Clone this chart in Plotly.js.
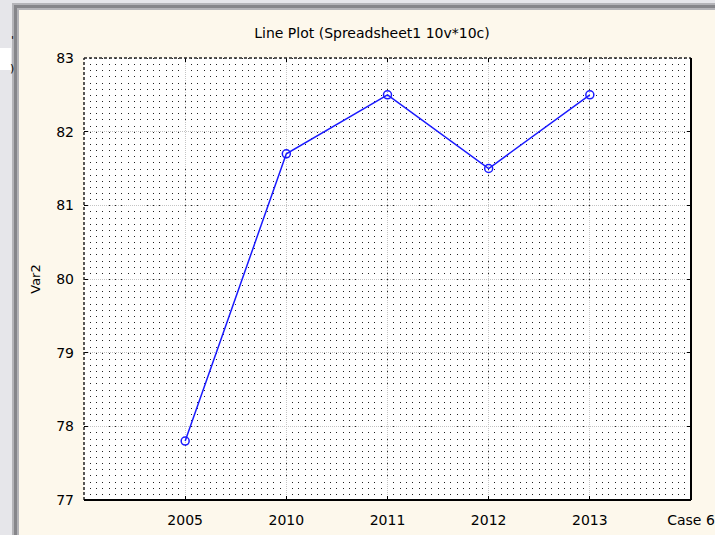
<!DOCTYPE html>
<html>
<head>
<meta charset="utf-8">
<script src="https://cdn.plot.ly/plotly-3.0.1.min.js"></script>
<style>
html,body{margin:0;padding:0;background:#fdf8ec;overflow:hidden;}
#frame{position:absolute;left:0;top:0;width:715px;height:535px;background:#fdf8ec;}
.s{position:absolute;}
#chart{position:absolute;left:0;top:0;width:715px;height:535px;z-index:2;}
</style>
</head>
<body>
<div id="frame">
  <div class="s" style="left:0;top:0;width:19px;height:535px;background:#e6e6ea;"></div>
  <div class="s" style="left:0;top:0;width:715px;height:10px;background:#e6e6ea;"></div>
  <div class="s" style="left:12px;top:3px;width:7px;height:532px;background:#b4b4b8;"></div>
  <div class="s" style="left:12px;top:3px;width:703px;height:7px;background:#b4b4b8;"></div>
  <div class="s" style="left:14px;top:5px;width:3px;height:530px;background:#86868a;"></div>
  <div class="s" style="left:14px;top:5px;width:701px;height:3px;background:#86868a;"></div>
  <div class="s" style="left:0;top:48px;width:11px;height:22px;background:#ffffff;"></div>
</div>
<div id="chart"></div>
<script>
// Data
const caseIndex = [1, 2, 3, 4, 5];
const years = ["2005", "2010", "2011", "2012", "2013"];
const var2 = [77.8, 81.7, 82.5, 81.5, 82.5];
const xTickVals = [1, 2, 3, 4, 5, 6];
const xTickText = ["2005", "2010", "2011", "2012", "2013", "Case 6"];
const yTickVals = [77, 78, 79, 80, 81, 82, 83];

const W = 715, H = 535;
const M = {l: 84, r: 24, t: 58, b: 35};
const PW = W - M.l - M.r, PH = H - M.t - M.b;
function px(x){ return (x - M.l) / PW; }
function py(y){ return 1 - (y - M.t) / PH; }

const font = {family: "DejaVu Sans, Verdana, sans-serif", size: 14, color: "#000"};

const trace = {
  x: caseIndex,
  y: var2,
  text: years,
  type: "scatter",
  mode: "lines+markers",
  line: {color: "#1a1aff", width: 1.5},
  marker: {symbol: "circle-open", size: 8, color: "#1a1aff", line: {width: 1.5}},
  hoverinfo: "text+y",
  showlegend: false
};

const layout = {
  width: W, height: H,
  margin: M,
  paper_bgcolor: "rgba(0,0,0,0)",
  plot_bgcolor: "#ffffff",
  font: font,
  title: {text: "Line Plot (Spreadsheet1 10v*10c)", font: {family: font.family, size: 14, color: "#000"},
          x: 372 / W, xref: "container", xanchor: "center", y: 1 - 33/H, yref: "container", yanchor: "middle"},
  xaxis: {
    range: [0, 6], tickvals: xTickVals, ticktext: xTickText,
    showgrid: true, gridcolor: "#c4c4c4", griddash: "1px,1px", gridwidth: 1,
    zeroline: false, showline: false,
    ticks: "inside", ticklen: 4, tickcolor: "#000", tickwidth: 1, mirror: "ticks",
    ticklabelstandoff: 10,
    tickfont: font,
    minor: {dtick: 1/16, tick0: 0, showgrid: true, gridcolor: "#222222", gridwidth: 1, griddash: "1px,5.139px", ticks: ""}
  },
  yaxis: {
    range: [77, 83], tickvals: yTickVals,
    showgrid: true, gridcolor: "#c4c4c4", griddash: "1px,1px", gridwidth: 1,
    zeroline: false, showline: false,
    ticks: "inside", ticklen: 4, tickcolor: "#000", tickwidth: 1, mirror: "ticks",
    ticklabelstandoff: 9,
    tickfont: font,
    title: {text: "Var2", font: {family: font.family, size: 13, color: "#000"}, standoff: 12}
  },
  shapes: [
    {type: "line", xref: "paper", yref: "paper", x0: 0, x1: 1, y0: 1, y1: 1, line: {color: "#222", width: 1.5, dash: "3px,2px"}},
    {type: "line", xref: "paper", yref: "paper", x0: 0, x1: 0, y0: 0, y1: 1, line: {color: "#222", width: 1.5, dash: "3px,2px"}},
    {type: "line", xref: "paper", yref: "paper", x0: 0, x1: 1, y0: 0, y1: 0, line: {color: "#000", width: 2}},
    {type: "line", xref: "paper", yref: "paper", x0: 1, x1: 1, y0: 0, y1: 1, line: {color: "#000", width: 2}}
  ],
  annotations: [
    {text: "'", xref: "paper", yref: "paper", x: px(9), y: py(32), showarrow: false, font: {family: font.family, size: 11, color: "#000"}},
    {text: ")", xref: "paper", yref: "paper", x: px(8), y: py(60), showarrow: false, font: {family: font.family, size: 11, color: "#000"}}
  ]
};

Plotly.newPlot("chart", [trace], layout, {displayModeBar: false, staticPlot: true});
</script>
</body>
</html>
